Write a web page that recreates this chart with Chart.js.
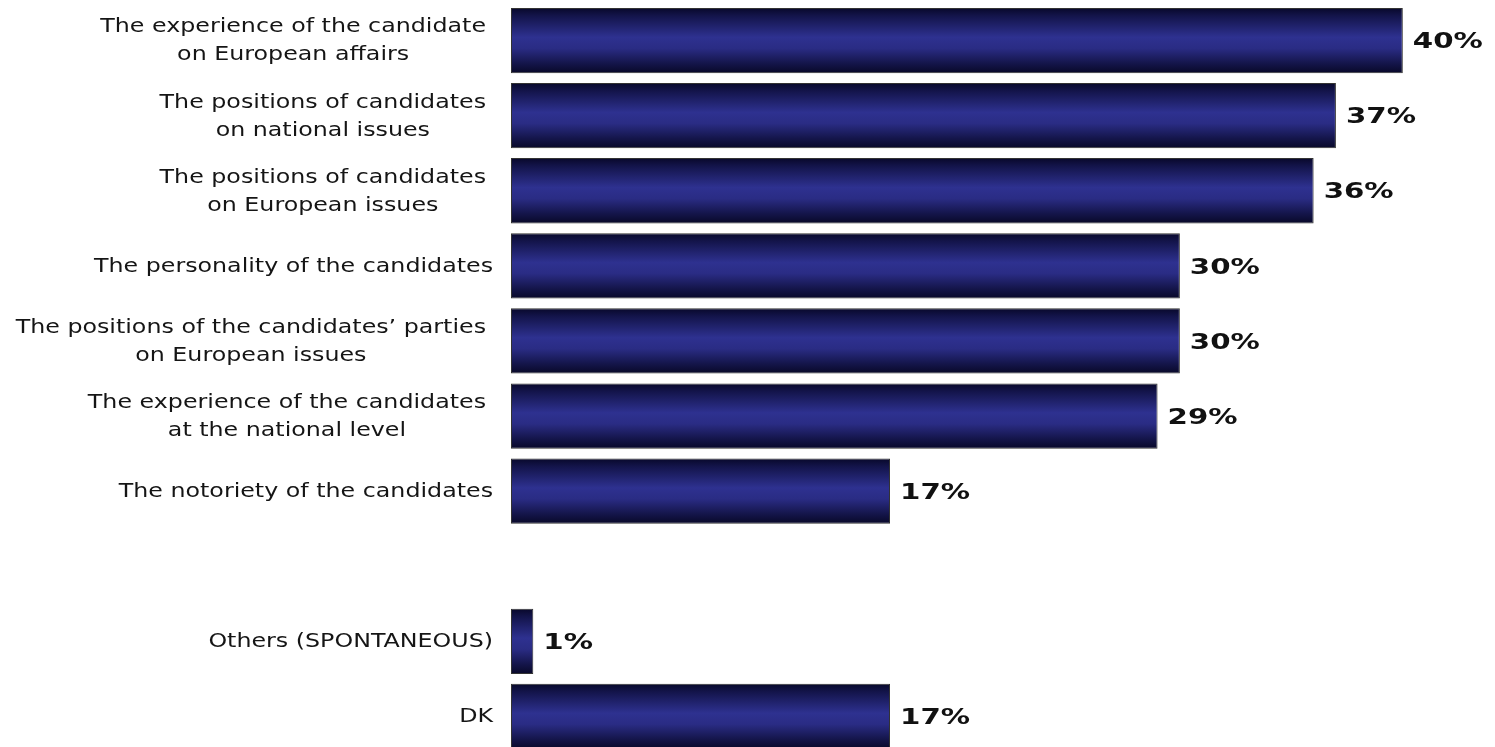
<!DOCTYPE html>
<html>
<head>
<meta charset="utf-8">
<script src="https://cdn.jsdelivr.net/npm/chart.js@4/dist/chart.umd.min.js"></script>
<style>
  html, body { margin: 0; padding: 0; background: #ffffff; overflow: hidden; }
  #wrap { position: relative; width: 1495px; height: 762px; }
</style>
</head>
<body>
<div id="wrap"><canvas id="c"></canvas></div>
<script>
// ---- data ----
const categories = [
  ["The experience of the candidate", "on European affairs"],
  ["The positions of candidates", "on national issues"],
  ["The positions of candidates", "on European issues"],
  ["The personality of the candidates"],
  ["The positions of the candidates\u2019 parties", "on European issues"],
  ["The experience of the candidates", "at the national level"],
  ["The notoriety of the candidates"],
  [""],
  ["Others (SPONTANEOUS)"],
  ["DK"]
];
const values = [40, 37, 36, 30, 30, 29, 17, null, 1, 17];
const valueSuffix = "%";

// ---- styling ----
const LABEL_FONT = "19px 'DejaVu Sans', Verdana, sans-serif";
const VALUE_FONT = "bold 22px 'DejaVu Sans', Verdana, sans-serif";
const LABEL_SCALE_X = 1.25;
const VALUE_SCALE_X = 1.33;
const BAR_PCT = 0.87;

function barGradient(ctx) {
  const chart = ctx.chart;
  const area = chart.chartArea;
  if (!area || ctx.type !== 'data' || !chart.scales.y) return '#2b2d85';
  const yScale = chart.scales.y;
  const yc = yScale.getPixelForValue(ctx.dataIndex);
  const pitch = area.height / categories.length;
  const h = pitch * BAR_PCT;
  const g = chart.ctx.createLinearGradient(0, yc - h / 2, 0, yc + h / 2);
  g.addColorStop(0.0, '#08082a');
  g.addColorStop(0.12, '#13144a');
  g.addColorStop(0.45, '#2e3190');
  g.addColorStop(0.62, '#2a2c84');
  g.addColorStop(0.85, '#14154a');
  g.addColorStop(1.0, '#080828');
  return g;
}

const labelPlugin = {
  id: 'labelPlugin',
  afterDatasetsDraw(chart) {
    const ctx = chart.ctx;
    const yScale = chart.scales.y;
    const xScale = chart.scales.x;
    const left = chart.chartArea.left;
    ctx.save();
    // category labels
    ctx.font = LABEL_FONT;
    ctx.fillStyle = '#151515';
    ctx.textBaseline = 'middle';
    ctx.textAlign = 'center';
    categories.forEach((lines, i) => {
      const yc = yScale.getPixelForValue(i);
      const widths = lines.map(l => ctx.measureText(l).width * LABEL_SCALE_X);
      const blockW = Math.max(...widths);
      const right = lines.length > 1 ? left - 25 : left - 18;
      const cx = right - blockW / 2;
      const lh = 28;
      lines.forEach((l, j) => {
        const ly = yc + (j - (lines.length - 1) / 2) * lh + 1;
        ctx.save();
        ctx.translate(cx, ly);
        ctx.scale(LABEL_SCALE_X, 1);
        ctx.fillText(l, 0, 0);
        ctx.restore();
      });
    });
    // value labels
    ctx.font = VALUE_FONT;
    ctx.fillStyle = '#111111';
    ctx.textAlign = 'left';
    const meta = chart.getDatasetMeta(0);
    meta.data.forEach((bar, i) => {
      const v = values[i];
      if (v === null || v === undefined) return;
      const x = xScale.getPixelForValue(v) + 10;
      const y = yScale.getPixelForValue(i) + 2;
      ctx.save();
      ctx.translate(x, y);
      ctx.scale(VALUE_SCALE_X, 1);
      ctx.fillText(v + valueSuffix, 0, 0);
      ctx.restore();
    });
    ctx.restore();
  }
};

new Chart(document.getElementById('c'), {
  type: 'bar',
  data: {
    labels: categories,
    datasets: [{
      data: values,
      backgroundColor: barGradient,
      borderColor: '#333333',
      borderWidth: 1,
      borderSkipped: false,
      barPercentage: BAR_PCT,
      categoryPercentage: 1.0
    }]
  },
  options: {
    indexAxis: 'y',
    responsive: true,
    maintainAspectRatio: false,
    animation: false,
    layout: { padding: { left: 511, right: 3, top: 3, bottom: 8 } },
    plugins: { legend: { display: false }, tooltip: { enabled: false } },
    scales: {
      x: { display: false, min: 0, max: 44, grid: { display: false } },
      y: { display: false, grid: { display: false } }
    }
  },
  plugins: [labelPlugin]
});
</script>
</body>
</html>
